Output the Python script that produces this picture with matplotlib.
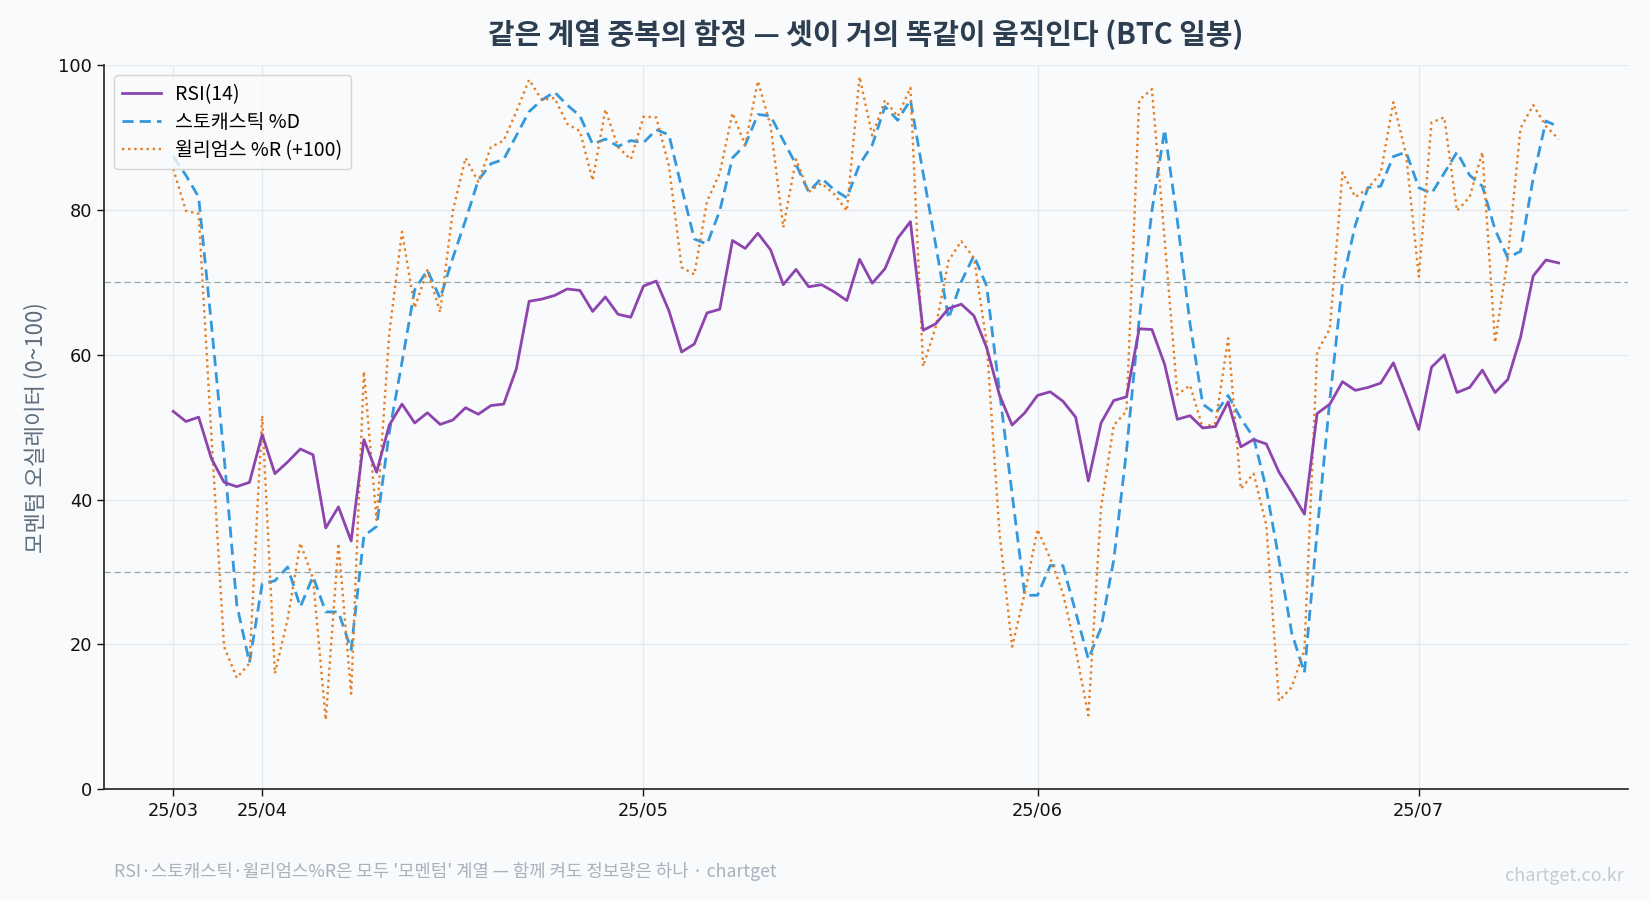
import matplotlib
matplotlib.use("Agg")
import matplotlib.pyplot as plt
from matplotlib.font_manager import FontProperties
import pandas as pd
import numpy as np

plt.rcParams['font.family'] = ['Noto Sans CJK KR', 'DejaVu Sans']
plt.rcParams['axes.unicode_minus'] = False

start_date = "2025-03-25"
n_days = 110

rsi = [52.2, 50.8, 51.4, 45.7, 42.4, 41.8, 42.4, 49.0, 43.6, 45.2, 47.0, 46.2, 36.1, 39.0, 34.3, 48.3, 43.8,
       50.3, 53.2, 50.6, 52.0, 50.4, 51.0, 52.7, 51.8, 53.0, 53.2, 58.1, 67.4, 67.7, 68.2, 69.1, 68.9, 66.0, 68.0, 65.6,
       65.2, 69.5, 70.2, 66.1, 60.4, 61.5, 65.8, 66.3, 75.8, 74.7, 76.8, 74.5, 69.7, 71.8, 69.4, 69.7,
       68.7, 67.5, 73.2, 69.9, 71.9, 76.1, 78.4, 63.4, 64.3, 66.4, 67.0, 65.4, 61.0, 54.5, 50.3, 52.0, 54.4,
       54.9, 53.6, 51.4, 42.6, 50.6, 53.7, 54.2, 63.6, 63.5, 58.7, 51.1, 51.6, 49.9, 50.1, 53.5, 47.3, 48.3,
       47.7, 43.8, 41.0, 38.0, 51.9, 53.2, 56.3, 55.1, 55.5, 56.1, 58.9, 54.4, 49.7, 58.3,
       60.0, 54.8, 55.5, 57.9, 54.8, 56.6, 62.4, 70.9, 73.1, 72.7]

stoch_d = [87.4, 84.8, 81.8, 64.3, 46.0, 25.5, 17.5, 28.4, 28.8, 30.7, 25.2, 29.4, 24.5, 24.5, 19.3, 35.0, 36.3,
           49.3, 59.0, 69.0, 71.7, 67.8, 73.4, 78.6, 84.1, 86.4, 87.0, 90.3, 93.6, 95.2, 96.3, 94.5, 93.0, 89.1, 89.8, 88.8,
           89.6, 89.3, 91.1, 90.4, 83.1, 76.0, 75.3, 79.9, 87.2, 89.0, 93.2, 93.0, 89.6, 86.3, 82.5, 84.4,
           82.8, 81.7, 86.3, 89.0, 94.3, 92.4, 95.2, 85.1, 75.1, 65.0, 70.1, 73.7, 69.5, 55.1, 40.8, 26.8, 26.8,
           30.9, 30.9, 24.5, 18.0, 22.3, 31.7, 46.7, 64.9, 79.9, 91.1, 78.6, 64.3, 53.2, 51.9, 54.4, 51.2, 48.6,
           41.5, 31.7, 21.6, 16.1, 35.6, 53.8, 70.1, 77.9, 83.1, 83.3, 87.4, 88.0, 83.1, 82.3,
           85.1, 88.0, 84.8, 83.3, 77.3, 73.4, 74.3, 84.4, 92.3, 91.5]

williams_r = [85.7, 79.9, 79.5, 49.0, 19.7, 15.4, 17.4, 51.6, 16.0, 23.5, 34.0, 29.1, 9.6, 34.0, 13.2, 57.7, 37.2,
              63.0, 77.0, 66.5, 71.7, 65.9, 79.9, 87.2, 83.9, 88.7, 89.6, 93.6, 98.0, 95.2, 95.5, 91.9, 90.9, 84.1, 93.9, 88.7,
              87.0, 92.9, 92.8, 86.1, 72.1, 71.1, 81.2, 85.1, 93.4, 89.0, 97.8, 91.6, 77.6, 87.0, 82.5, 83.7,
              82.2, 79.9, 98.4, 90.3, 95.2, 92.9, 96.9, 58.4, 63.9, 73.0, 75.7, 73.4, 61.7, 35.6, 19.7, 27.1, 35.9,
              31.9, 27.1, 19.3, 10.2, 38.9, 50.3, 52.2, 95.2, 96.7, 76.0, 54.5, 55.8, 49.9, 50.6, 62.3, 41.5, 43.6,
              36.5, 12.2, 14.1, 19.3, 60.4, 63.6, 85.2, 81.8, 83.0, 85.1, 94.9, 87.7, 70.8, 92.1,
              92.8, 79.9, 81.8, 88.0, 61.7, 73.4, 91.3, 94.5, 91.6, 89.8]

tick_dates = ["2025-03-25", "2025-04-01", "2025-05-01", "2025-06-01", "2025-07-01"]
tick_labels = ["25/03", "25/04", "25/05", "25/06", "25/07"]
y_ticks = [0, 20, 40, 60, 80, 100]

series_labels = ["RSI(14)", "스토캐스틱 %D", "윌리엄스 %R (+100)"]
title = "같은 계열 중복의 함정 — 셋이 거의 똑같이 움직인다 (BTC 일봉)"
ylabel = "모멘텀 오실레이터 (0~100)"
footer = "RSI·스토캐스틱·윌리엄스%R은 모두 '모멘텀' 계열 — 함께 켜도 정보량은 하나 · chartget"
watermark = "chartget.co.kr"

dates = pd.date_range(start_date, periods=n_days, freq="D")

bg = "#f8fafc"
fig = plt.figure(figsize=(16.5, 9), dpi=100, facecolor=bg)
ax_rect = [0.063, 0.123, 0.9236, 0.8045]
ax = fig.add_axes(ax_rect)
ax.set_facecolor(bg)

ax.plot(dates, rsi, color="#8e44ad", lw=2.0, label=series_labels[0], zorder=4)
ax.plot(dates, stoch_d, color="#3498db", lw=2.0, ls=(0, (4, 2.2)), label=series_labels[1], zorder=3)
ax.plot(dates, williams_r, color="#e67e22", lw=1.7, ls=(0, (1, 1.6)), label=series_labels[2], zorder=3)

for lvl in (70, 30):
    ax.axhline(lvl, color="#95a5a6", lw=0.9, ls=(0, (5, 3)), zorder=2)

ax.set_ylim(0, 100)
ax.margins(x=0.05)
ax.set_yticks(y_ticks, labels=[str(v) for v in y_ticks])
ax.set_xticks(pd.to_datetime(tick_dates), labels=tick_labels)

ax.grid(True, color="#e5e8ec", lw=0.9, zorder=0)
ax.set_axisbelow(True)
for s in ("top", "right"):
    ax.spines[s].set_visible(False)
for s in ("left", "bottom"):
    ax.spines[s].set_color("#222222")
    ax.spines[s].set_linewidth(1.2)
ax.tick_params(axis="both", colors="#111111", length=5, width=1.0)

ax.set_ylabel(ylabel, fontsize=16, color="#5d6d7e", labelpad=8)
fig.text(ax_rect[0] + ax_rect[2] / 2, 0.961, title, ha="center", va="center",
         fontsize=20.8, fontweight="bold", color="#2c3e50")

leg = ax.legend(loc="upper left", fontsize=14, frameon=True, borderpad=0.45, handlelength=2.0,
                handletextpad=0.7, labelspacing=0.36, bbox_to_anchor=(0.0, 1.0))
leg.get_frame().set_facecolor(bg)
leg.get_frame().set_edgecolor("#cccccc")

fig.text(0.069, 0.032, footer, ha="left", va="center", fontsize=12.8, color="#a9b1bd")
fig.text(0.984, 0.027, watermark, ha="right", va="center", fontsize=13, color="#c5cad2")

fig.canvas.draw()
tick_fp = FontProperties(family="DejaVu Sans", size=12.8)
for lab in ax.get_xticklabels() + ax.get_yticklabels():
    lab.set_fontproperties(tick_fp)

fig.savefig("out.png", dpi=100, facecolor=bg)
